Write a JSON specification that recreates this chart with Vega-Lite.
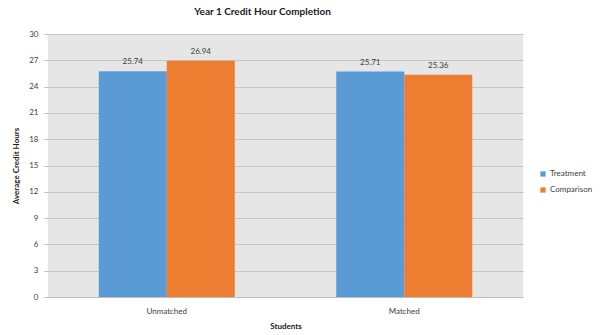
{
  "$schema": "https://vega.github.io/schema/vega-lite/v6.json",
  "autosize": {"type": "none"},
  "width": 475,
  "height": 263,
  "padding": {"left": 48, "top": 34, "right": 85, "bottom": 38},
  "background": "white",
  "title": {
    "text": "Year 1 Credit Hour Completion",
    "font": "Lato",
    "fontSize": 10,
    "fontWeight": "bold",
    "color": "#1a1a1a",
    "anchor": "middle",
    "dx": -23,
    "offset": 13
  },
  "data": {
    "values": [
      {"Students": "Unmatched", "Group": "Treatment", "Hours": 25.74},
      {"Students": "Unmatched", "Group": "Comparison", "Hours": 26.94},
      {"Students": "Matched", "Group": "Treatment", "Hours": 25.71},
      {"Students": "Matched", "Group": "Comparison", "Hours": 25.36}
    ]
  },
  "encoding": {
    "x": {
      "field": "Students",
      "type": "nominal",
      "sort": ["Unmatched", "Matched"],
      "scale": {"paddingInner": 0.4274, "paddingOuter": 0.2137},
      "axis": {
        "title": "Students",
        "titleFont": "Lato",
        "titleFontSize": 8,
        "titleFontWeight": "bold",
        "titleColor": "#1a1a1a",
        "titlePadding": 7,
        "labelAngle": 0,
        "labelFont": "Lato",
        "labelFontSize": 8,
        "labelColor": "#404040",
        "labelPadding": 10,
        "ticks": false,
        "domainColor": "#bfbfbf"
      }
    },
    "xOffset": {"field": "Group", "type": "nominal", "sort": ["Treatment", "Comparison"], "scale": {"paddingInner": 0, "paddingOuter": 0}},
    "y": {
      "field": "Hours",
      "type": "quantitative",
      "scale": {"domain": [0, 30], "nice": false},
      "axis": {
        "title": "Average Credit Hours",
        "titleFont": "Lato",
        "titleFontSize": 8,
        "titleFontWeight": "bold",
        "titleColor": "#1a1a1a",
        "titlePadding": 8,
        "values": [0, 3, 6, 9, 12, 15, 18, 21, 24, 27, 30],
        "labelFont": "Lato",
        "labelFontSize": 8,
        "labelColor": "#404040",
        "labelPadding": 6,
        "ticks": true,
        "tickSize": 4,
        "tickColor": "#bfbfbf",
        "domain": false,
        "grid": true,
        "gridColor": "#c6c6c6",
        "gridWidth": 1
      }
    },
    "color": {
      "field": "Group",
      "type": "nominal",
      "sort": ["Treatment", "Comparison"],
      "scale": {"domain": ["Treatment", "Comparison"], "range": ["#5b9bd5", "#ed7d31"]},
      "legend": {
        "title": null,
        "orient": "none",
        "legendX": 491,
        "legendY": 136,
        "symbolType": "square",
        "symbolSize": 28,
        "symbolStrokeWidth": 0,
        "labelFont": "Lato",
        "labelFontSize": 8,
        "labelColor": "#404040",
        "rowPadding": 8,
        "labelOffset": 3
      }
    }
  },
  "layer": [
    {"mark": {"type": "bar"}},
    {
      "mark": {"type": "text", "baseline": "bottom", "dy": -5, "font": "Lato", "fontSize": 8, "color": "#404040"},
      "encoding": {"text": {"field": "Hours", "type": "quantitative", "format": ".2f"}, "color": {"value": "#404040"}}
    }
  ],
  "config": {
    "view": {"fill": "#e6e6e6", "stroke": null}
  }
}
